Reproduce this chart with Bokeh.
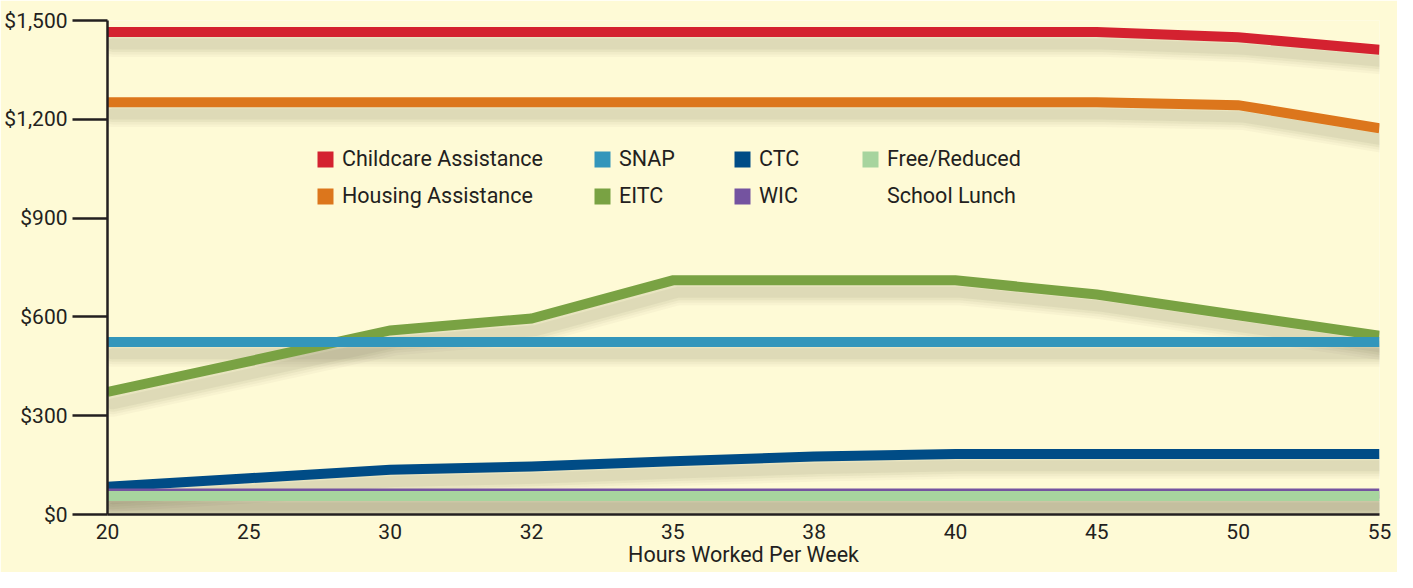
import numpy as np
from bokeh.plotting import figure
from bokeh.models import (Range1d, FixedTicker, NumeralTickFormatter, Legend, LegendItem)
from bokeh.embed import file_html
from bokeh.resources import INLINE

# ---- data ----
hours = ["20", "25", "30", "32", "35", "38", "40", "45", "50", "55"]
childcare = [1465, 1465, 1465, 1465, 1465, 1465, 1465, 1465, 1449, 1411]
housing = [1252, 1252, 1252, 1252, 1252, 1252, 1252, 1252, 1243, 1173]
eitc = [372, 465, 559, 595, 711, 711, 711, 668, 605, 543]
snap = [524, 524, 524, 524, 524, 524, 524, 524, 524, 524]
ctc = [84, 110, 136, 146, 162, 176, 184, 184, 184, 184]
wic = [64, 64, 64, 64, 64, 64, 64, 64, 64, 64]
lunch = [56, 56, 56, 56, 56, 56, 56, 56, 56, 56]
y_ticks = [0, 300, 600, 900, 1200, 1500]
x_title = "Hours Worked Per Week"

series = [
    ("Childcare Assistance", childcare, "#d42230"),
    ("Housing Assistance", housing, "#dc761c"),
    ("EITC", eitc, "#79a243"),
    ("SNAP", snap, "#3396bb"),
    ("CTC", ctc, "#004c86"),
    ("WIC", wic, "#7453a0"),
    ("Free/Reduced", lunch, "#a7d49e"),
]

BG = "#fefad6"
TXT = "#231f20"
FONT = "Roboto"

xs = np.arange(len(hours))

p = figure(width=1397, height=572, output_backend="svg", toolbar_location=None,
           x_range=Range1d(0, len(hours) - 1), y_range=Range1d(0, 1500),
           min_border_left=107, min_border_right=18, min_border_top=20,
           min_border_bottom=58)
p.background_fill_color = BG
p.border_fill_color = BG
p.outline_line_color = None
p.grid.visible = False

# soft shadows (derived from the data, offset a few pixels down/right)
for name, vals, col in series:
    sx = xs + 0.035
    sy = np.array(vals) - 36
    for w, a in [(26, 0.035), (21, 0.04), (16, 0.05), (11, 0.06)]:
        p.line(sx, sy, line_width=w, line_color="#4a4530", line_alpha=a,
               line_join="round", line_cap="round")

for name, vals, col in series:
    p.line(xs, vals, line_width=10, line_color=col,
           line_join="miter", line_cap="butt")

# axes
xa = p.xaxis[0]
xa.ticker = FixedTicker(ticks=list(xs))
xa.major_label_overrides = {int(i): h for i, h in zip(xs, hours)}
xa.major_tick_out = 0
xa.major_tick_in = 0
xa.minor_tick_line_color = None
xa.axis_line_color = TXT
xa.axis_line_width = 2.5
xa.major_label_text_font = FONT
xa.major_label_text_font_size = "21px"
xa.major_label_text_color = TXT
xa.major_label_standoff = 9
xa.axis_label = x_title
xa.axis_label_text_font = FONT
xa.axis_label_text_font_size = "21.5px"
xa.axis_label_text_font_style = "normal"
xa.axis_label_text_color = TXT
xa.axis_label_standoff = 0

ya = p.yaxis[0]
ya.ticker = FixedTicker(ticks=y_ticks)
ya.formatter = NumeralTickFormatter(format="$0,0")
ya.major_tick_out = 35
ya.major_tick_in = 0
ya.major_tick_line_width = 2.5
ya.major_tick_line_color = TXT
ya.minor_tick_line_color = None
ya.axis_line_color = TXT
ya.axis_line_width = 2.5
ya.major_label_text_font = FONT
ya.major_label_text_font_size = "21px"
ya.major_label_text_color = TXT
ya.major_label_standoff = 5

# legend: four columns of square swatches (renderers that draw nothing)
def swatch(col, alpha=1.0):
    return p.quad(left=[np.nan], right=[np.nan], top=[np.nan], bottom=[np.nan],
                  fill_color=col, fill_alpha=alpha, line_alpha=0)

colors = {n: c for n, _, c in series}
columns = [
    (208, [("Childcare Assistance", colors["Childcare Assistance"], 1.0),
           ("Housing Assistance", colors["Housing Assistance"], 1.0)]),
    (485, [("SNAP", colors["SNAP"], 1.0), ("EITC", colors["EITC"], 1.0)]),
    (625, [("CTC", colors["CTC"], 1.0), ("WIC", colors["WIC"], 1.0)]),
    (753, [("Free/Reduced", colors["Free/Reduced"], 1.0),
           ("School Lunch", "#ffffff", 0.0)]),
]
for lx, items in columns:
    leg = Legend(items=[LegendItem(label=t, renderers=[swatch(c, a)]) for t, c, a in items],
                 location=(lx, 306), orientation="vertical",
                 glyph_width=20, glyph_height=20, label_standoff=7, spacing=12,
                 padding=0, margin=0, border_line_alpha=0, background_fill_alpha=0,
                 label_text_font=FONT, label_text_font_size="21.5px",
                 label_text_color=TXT)
    p.add_layout(leg)

open("out.html", "w").write(file_html(p, INLINE))
